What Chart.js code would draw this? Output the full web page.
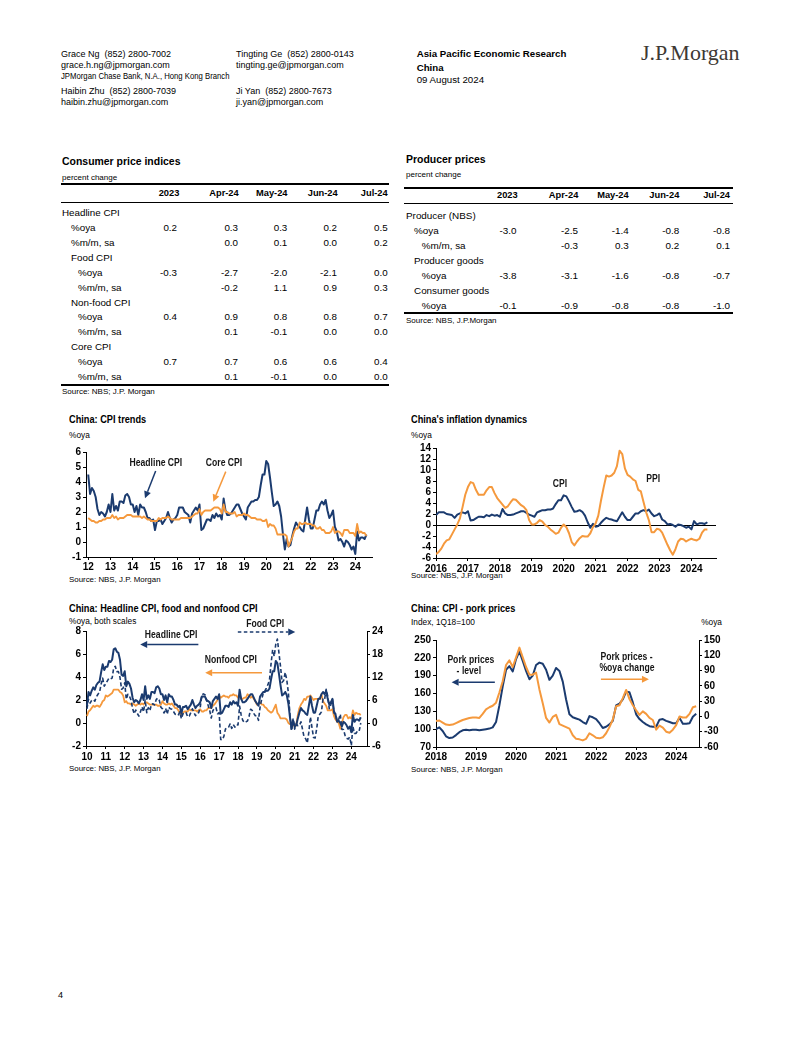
<!DOCTYPE html>
<html><head><meta charset="utf-8">
<script src="https://cdn.jsdelivr.net/npm/chart.js@4.4.1/dist/chart.umd.min.js"></script>
<style>
html,body{margin:0;padding:0;background:#fff}
body{width:802px;height:1037px;position:relative;overflow:hidden;font-family:"Liberation Sans",Arial,sans-serif;color:#000}
.t{position:absolute;white-space:pre;line-height:1}
.r{position:absolute;background:#000}
canvas{position:absolute}
</style></head><body>
<script>
// ---------- DATA ----------
const tableCols = ["2023","Apr-24","May-24","Jun-24","Jul-24"];
const cpiRowLabels = ["Headline CPI","%oya","%m/m, sa","Food CPI","%oya","%m/m, sa","Non-food CPI","%oya","%m/m, sa","Core CPI","%oya","%m/m, sa"];
const cpiRowValues = [[],["0.2","0.3","0.3","0.2","0.5"],["","0.0","0.1","0.0","0.2"],[],["-0.3","-2.7","-2.0","-2.1","0.0"],["","-0.2","1.1","0.9","0.3"],[],["0.4","0.9","0.8","0.8","0.7"],["","0.1","-0.1","0.0","0.0"],[],["0.7","0.7","0.6","0.6","0.4"],["","0.1","-0.1","0.0","0.0"]];
const ppiRowLabels = ["Producer (NBS)","%oya","%m/m, sa","Producer goods","%oya","Consumer goods","%oya"];
const ppiRowValues = [[],["-3.0","-2.5","-1.4","-0.8","-0.8"],["","-0.3","0.3","0.2","0.1"],[],["-3.8","-3.1","-1.6","-0.8","-0.7"],[],["-0.1","-0.9","-0.8","-0.8","-1.0"]];

// Monthly headline CPI %oya, Jan 2010 - Jul 2024
const headlineCPI = [
1.5,2.7,2.4,2.8,3.1,2.9,3.3,3.5,3.6,4.4,5.1,4.6,
4.9,4.9,5.4,5.3,5.5,6.4,6.5,6.2,6.1,5.5,4.2,4.1,
4.5,3.2,3.6,3.4,3.0,2.2,1.8,2.0,1.9,1.7,2.0,2.5,
2.0,3.2,2.1,2.4,2.1,2.7,2.7,2.6,3.1,3.2,3.0,2.5,
2.5,2.0,2.4,1.8,2.5,2.3,2.3,2.0,1.6,1.6,1.4,1.5,
0.8,1.4,1.4,1.5,1.2,1.4,1.6,2.0,1.6,1.3,1.5,1.6,
1.8,2.3,2.3,2.3,2.0,1.9,1.8,1.3,1.9,2.1,2.3,2.1,
2.5,0.8,0.9,1.2,1.5,1.5,1.4,1.8,1.6,1.9,1.7,1.8,
1.5,2.9,2.1,1.8,1.8,1.9,2.1,2.3,2.5,2.5,2.2,1.9,
1.7,1.5,2.3,2.5,2.7,2.7,2.8,2.8,3.0,3.8,4.5,4.5,
5.4,5.2,4.3,3.3,2.4,2.5,2.7,2.4,1.7,0.5,-0.5,0.2,
-0.3,-0.2,0.4,0.9,1.3,1.1,1.0,0.8,0.7,1.5,2.3,1.5,
0.9,0.9,1.5,2.1,2.1,2.5,2.7,2.5,2.8,2.1,1.6,1.8,
2.1,1.0,0.7,0.1,0.2,0.0,-0.3,0.1,0.0,-0.2,-0.5,-0.3,
-0.8,0.7,0.1,0.3,0.3,0.2,0.5];
// Core CPI %oya, Jan 2012 - Jul 2024
const coreCPI = [
1.6,1.5,1.4,1.4,1.3,1.3,1.4,1.4,1.5,1.5,1.6,1.6,
1.6,1.8,1.6,1.7,1.5,1.6,1.6,1.6,1.7,1.8,1.8,1.8,
1.7,1.7,1.7,1.7,1.7,1.6,1.7,1.6,1.5,1.5,1.4,1.4,
1.4,1.4,1.6,1.5,1.6,1.6,1.6,1.7,1.6,1.5,1.5,1.5,
1.5,1.5,1.6,1.6,1.6,1.6,1.6,1.6,1.7,1.8,1.9,1.9,
2.2,1.8,2.0,2.1,2.1,2.1,2.1,2.2,2.3,2.3,2.3,2.2,
1.9,2.5,2.0,2.0,1.9,1.9,1.9,2.0,1.7,1.8,1.8,1.8,
1.9,1.8,1.8,1.7,1.6,1.6,1.6,1.5,1.5,1.5,1.4,1.4,
1.5,1.0,1.2,1.1,1.1,0.9,0.5,0.5,0.5,0.5,0.5,0.4,
-0.3,0.0,0.3,0.7,0.9,0.9,1.3,1.2,1.2,1.3,1.2,1.2,
1.2,1.1,1.1,0.9,0.9,1.0,0.8,0.8,0.6,0.6,0.6,0.7,
1.0,0.6,0.7,0.7,0.6,0.4,0.8,0.8,0.8,0.6,0.6,0.6,
0.4,1.2,0.6,0.7,0.6,0.6,0.4];
// PPI %oya, Jan 2016 - Jul 2024
const ppi = [
-5.3,-4.9,-4.3,-3.4,-2.8,-2.6,-1.7,-0.8,0.1,1.2,3.3,5.5,
6.9,7.8,7.6,6.4,5.5,5.5,5.5,6.3,6.9,6.9,5.8,4.9,
4.3,3.7,3.1,3.4,4.1,4.7,4.6,4.1,3.6,3.3,2.7,0.9,
0.1,0.1,0.4,0.9,0.6,0.0,-0.3,-0.8,-1.2,-1.6,-1.4,-0.5,
0.1,-0.4,-1.5,-3.1,-3.7,-3.0,-2.4,-2.0,-2.1,-2.1,-1.5,-0.4,
0.3,1.7,4.4,6.8,9.0,8.8,9.0,9.5,10.7,13.5,12.9,10.3,
9.1,8.8,8.3,8.0,6.4,6.1,4.2,2.3,0.9,-1.3,-1.3,-0.7,
-0.8,-1.4,-2.5,-3.6,-4.6,-5.4,-4.4,-3.0,-2.5,-2.6,-3.0,-2.7,
-2.5,-2.7,-2.8,-2.5,-1.4,-0.8,-0.8];
// Food CPI %oya, Jan 2010 - Jul 2024 (right scale)
const foodCPI = [
3.7,6.2,5.2,5.9,6.1,5.7,6.8,7.5,8.0,10.1,11.7,9.6,
10.3,11.0,11.7,11.5,11.7,14.4,14.8,13.4,13.4,11.9,8.8,9.1,
10.5,6.2,7.5,7.0,6.0,3.8,2.4,3.4,2.5,1.8,2.9,4.2,
2.9,6.0,2.7,4.0,3.2,4.9,5.0,4.7,6.1,6.5,5.9,4.1,
3.7,2.6,3.8,2.3,4.1,3.7,3.6,3.0,2.3,2.2,2.0,2.9,
1.1,2.4,2.3,2.7,1.6,1.8,2.7,3.7,2.7,1.9,2.6,2.7,
4.1,7.3,7.6,7.4,5.9,4.6,3.3,1.3,3.2,3.8,4.0,2.4,
2.7,-4.3,-4.4,-3.5,-1.6,-1.2,-1.1,-0.2,-1.4,-0.4,-1.1,-0.4,
-0.5,4.4,2.1,0.7,0.1,0.3,0.5,1.7,3.6,3.3,2.5,1.9,
1.9,0.7,4.1,6.1,7.7,8.3,9.1,10.0,11.2,15.5,19.1,17.4,
20.6,21.9,18.3,14.8,10.6,11.1,13.2,11.2,7.9,2.2,-2.0,1.2,
-1.6,-0.2,-0.7,-0.7,0.3,-1.7,-3.7,-4.1,-5.2,-2.4,1.6,-1.2,
-3.8,-3.9,-1.5,1.9,2.3,2.9,6.3,6.1,8.8,7.0,3.7,4.8,
6.2,2.6,2.4,0.4,1.0,2.3,-1.7,-1.7,-3.2,-4.0,-4.2,-3.7,
-5.9,-0.9,-2.7,-2.7,-2.0,-2.1,0.0];
// Nonfood CPI %oya, Jan 2010 - Jul 2024
const nonfoodCPI = [
0.6,1.0,1.1,1.3,1.5,1.4,1.5,1.5,1.4,1.6,1.9,2.0,
2.4,2.3,2.4,2.5,2.6,2.9,2.9,2.9,2.9,2.7,2.6,2.4,
1.8,1.9,1.7,1.7,1.6,1.7,1.6,1.5,1.6,1.7,1.6,1.7,
1.6,1.8,1.8,1.7,1.6,1.6,1.6,1.6,1.6,1.5,1.5,1.6,
1.9,1.7,1.6,1.6,1.7,1.6,1.7,1.5,1.3,1.3,1.1,0.9,
0.7,0.9,1.0,1.0,1.0,1.2,1.1,1.1,1.1,1.1,1.0,1.1,
1.2,1.0,1.0,1.1,1.1,1.3,1.3,1.3,1.5,1.6,1.8,2.0,
2.4,2.2,2.3,2.4,2.3,2.3,2.2,2.4,2.4,2.5,2.4,2.4,
2.2,2.5,2.1,2.1,2.2,2.2,2.5,2.4,2.2,2.3,2.1,1.9,
1.6,1.7,1.8,1.6,1.6,1.4,1.3,1.1,1.0,0.9,1.0,1.3,
1.6,0.9,0.7,0.4,0.4,0.4,0.4,0.3,0.0,-0.1,0.0,-0.1,
-0.3,-0.2,0.7,1.3,1.6,1.8,2.1,2.0,2.3,2.3,2.4,2.2,
2.0,2.1,2.1,2.1,2.1,2.5,1.9,1.7,1.5,1.1,1.1,1.1,
1.2,0.6,0.3,0.1,0.0,-0.5,0.0,0.5,0.7,0.7,0.4,0.5,
0.4,1.1,0.7,0.9,0.8,0.8,0.7];
// Pork price level (index 1Q18=100), Jan 2018 - Jul 2024
const porkLevel = [
100,103,97,88,85,86,90,95,98,99,98,99,
99,98,99,100,101,103,112,140,172,200,206,197,
218,231,215,198,184,190,208,212,210,200,183,190,
203,198,180,150,125,120,118,116,112,109,122,120,
117,110,102,104,108,114,140,143,150,163,162,145,
125,117,112,108,105,104,104,116,117,114,112,110,
110,119,109,109,110,121,126];
// Pork prices %oya, Jan 2018 - Jul 2024
const porkYoY = [
-9,-8,-12,-16,-17,-16,-13,-10,-7,-5,-3,-2,
-2,-3,5,14,18,21,27,47,69,101,110,97,
116,135,116,97,82,82,86,53,26,-3,-12,-1,
3,-15,-18,-21,-24,-37,-44,-45,-47,-44,-33,-37,
-42,-43,-41,-33,-21,-6,20,22,36,52,34,22,
12,3,10,5,-3,-7,-26,-18,-22,-30,-32,-26,
-17,0,-2,-2,5,18,20];

const yearsCPITrend = [2012,2013,2014,2015,2016,2017,2018,2019,2020,2021,2022,2023,2024];
const yearsDynamics = [2016,2017,2018,2019,2020,2021,2022,2023,2024];
const yearsFood = [2010,2011,2012,2013,2014,2015,2016,2017,2018,2019,2020,2021,2022,2023,2024];
const yearsPork = [2018,2019,2020,2021,2022,2023,2024];

// ---------- PAGE TEXT ----------
const FF = "'Liberation Sans', Arial, sans-serif";
function T(x, yc, text, fs, o = {}) {
  const d = document.createElement('div');
  d.className = 't';
  d.textContent = text;
  d.style.fontSize = fs + 'px';
  if (o.bold) d.style.fontWeight = 'bold';
  d.style.top = (yc - 0.49 * fs) + 'px';
  if (o.right) { d.style.right = (802 - x) + 'px'; d.style.transformOrigin = 'right center'; }
  else { d.style.left = x + 'px'; d.style.transformOrigin = 'left center'; }
  if (o.sx) d.style.transform = 'scaleX(' + o.sx + ')';
  if (o.color) d.style.color = o.color;
  if (o.family) d.style.fontFamily = o.family;
  if (o.top !== undefined) d.style.top = o.top + 'px';
  document.body.appendChild(d);
  return d;
}
function R(x1, x2, y, w) {
  const d = document.createElement('div');
  d.className = 'r';
  d.style.left = x1 + 'px'; d.style.width = (x2 - x1) + 'px';
  d.style.top = (y - w / 2) + 'px'; d.style.height = w + 'px';
  document.body.appendChild(d);
}

// header
T(61, 54, "Grace Ng  (852) 2800-7002", 9);
T(61, 65.7, "grace.h.ng@jpmorgan.com", 9);
T(61, 76, "JPMorgan Chase Bank, N.A., Hong Kong Branch", 8.5, {sx: 0.91});
T(61, 91.5, "Haibin Zhu  (852) 2800-7039", 9);
T(61, 102.7, "haibin.zhu@jpmorgan.com", 9);
T(236, 54, "Tingting Ge  (852) 2800-0143", 9);
T(236, 65.7, "tingting.ge@jpmorgan.com", 9);
T(236, 91.5, "Ji Yan  (852) 2800-7673", 9);
T(236, 102.7, "ji.yan@jpmorgan.com", 9);
T(416.7, 54, "Asia Pacific Economic Research", 9.7, {bold: true});
T(416.7, 67.3, "China", 9.7, {bold: true});
T(416.7, 79.3, "09 August 2024", 9.7);
T(641, 0, "J.P.Morgan", 22, {family: "'Liberation Serif','Times New Roman',serif", color: '#3d3934', top: 60.5 - 0.8375 * 22});
T(58, 995, "4", 9);

// CPI table
T(62, 161, "Consumer price indices", 11, {bold: true, sx: 0.95});
T(62, 177.7, "percent change", 8);
R(61, 389, 184, 2);
const cpiHdrRight = [179.3, 238.7, 287.5, 337.7, 387.7];
const cpiValRight = [177, 238, 287.3, 337, 387.7];
tableCols.forEach((c, i) => T(cpiHdrRight[i], 193.5, c, 9.3, {bold: true, right: true}));
R(61, 389, 202.5, 1);
const cpiIndent = [62, 71, 71, 71, 78, 78, 71, 78, 78, 71, 78, 78];
cpiRowLabels.forEach((lab, r) => {
  const y = 213.3 + r * 14.85;
  T(cpiIndent[r], y, lab, 9.8);
  cpiRowValues[r].forEach((v, i) => { if (v) T(cpiValRight[i], y, v, 9.8, {right: true}); });
});
R(61, 389, 384.7, 2);
T(62, 392, "Source: NBS; J.P. Morgan", 8);

// PPI table
T(406, 159.3, "Producer prices", 11, {bold: true, sx: 0.95});
T(406, 175.3, "percent change", 8);
R(404, 733, 187.7, 2);
const ppiHdrRight = [517.7, 578.3, 628.7, 679.3, 730];
const ppiValRight = [516.5, 578, 628.7, 679.3, 730];
tableCols.forEach((c, i) => T(ppiHdrRight[i], 195.5, c, 9.3, {bold: true, right: true}));
R(404, 733, 203, 1);
const ppiIndent = [406, 414, 421.7, 414, 421.7, 414, 421.7];
ppiRowLabels.forEach((lab, r) => {
  const y = 215.7 + r * 14.95;
  T(ppiIndent[r], y, lab, 9.9);
  ppiRowValues[r].forEach((v, i) => { if (v) T(ppiValRight[i], y, v, 9.9, {right: true}); });
});
R(404, 733, 312.7, 2);
T(406, 320.7, "Source: NBS, J.P.Morgan", 8);

// chart titles / notes
T(69, 419.3, "China: CPI trends", 11.5, {bold: true, sx: 0.8});
T(69, 435, "%oya", 8.3);
T(69, 580, "Source: NBS, J.P. Morgan", 7.9);
T(411, 419.3, "China's inflation dynamics", 11.5, {bold: true, sx: 0.8});
T(411, 435, "%oya", 8.3);
T(411, 576, "Source: NBS, J.P. Morgan", 7.9);
T(69, 608.7, "China: Headline CPI, food and nonfood CPI", 11.5, {bold: true, sx: 0.8});
T(69, 620.7, "%oya, both scales", 8.3);
T(69, 769, "Source: NBS, J.P. Morgan", 7.9);
T(411, 608.7, "China: CPI - pork prices", 11.5, {bold: true, sx: 0.8});
T(411, 622.3, "Index, 1Q18=100", 8.3);
T(722, 622.3, "%oya", 8.3, {right: true});
T(411, 770.3, "Source: NBS, J.P. Morgan", 7.9);

// ---------- CHARTS ----------
const NAVY = '#1b3b6f', ORANGE = '#f5993d', INK = '#151515';
Chart.defaults.font.family = FF;
const tickFont = {family: FF, size: 10, weight: 'bold'};

function pts(values, startYear) { return values.map((v, i) => ({x: startYear + i / 12, y: v})); }
function ds(data, color, w, order, yAxisID, dash) {
  return {data, borderColor: color, backgroundColor: color, borderWidth: w, pointRadius: 0, tension: 0,
    fill: false, order, yAxisID: yAxisID || 'y', borderDash: dash || [], borderJoinStyle: 'round', borderCapStyle: 'butt'};
}
function yAxis(pos, min, max, step, width, zeroLine) {
  return {type: 'linear', position: pos, min, max,
    afterBuildTicks: s => { const t = []; for (let v = min; v <= max + 1e-9; v += step) t.push({value: Math.round(v * 1e6) / 1e6}); s.ticks = t; },
    ticks: {font: tickFont, color: '#000', padding: 2, autoSkip: false},
    grid: {drawOnChartArea: !!zeroLine, drawTicks: true, tickLength: 3, tickColor: '#000', lineWidth: 1,
      color: zeroLine ? (c => (c.tick && c.tick.value === 0) ? '#000' : 'rgba(0,0,0,0)') : '#000'},
    border: {display: true, color: '#000', width: 1},
    afterFit: s => { s.width = width; }};
}
function xAxis(min, max, years, short, height, pad) {
  return {type: 'linear', min, max,
    afterBuildTicks: s => { s.ticks = years.map(v => ({value: v})); },
    ticks: {font: tickFont, color: '#000', padding: pad, maxRotation: 0, autoSkip: false,
      callback: v => short ? String(v).slice(2) : String(v)},
    grid: {drawOnChartArea: false, drawTicks: true, tickLength: 3, color: '#000'},
    border: {display: true, color: '#000', width: 1},
    afterFit: s => { s.height = height; }};
}
function annot(items) {
  return {id: 'annot', afterDraw(chart) {
    const ctx = chart.ctx, xs = chart.scales.x, ys = chart.scales.y;
    items.forEach(a => {
      ctx.save();
      if (a.t) {
        ctx.font = 'bold ' + (a.fs || 10.5) + 'px ' + FF;
        ctx.fillStyle = INK; ctx.textAlign = 'center'; ctx.textBaseline = 'middle';
        ctx.translate(xs.getPixelForValue(a.x), ys.getPixelForValue(a.y));
        ctx.scale(a.sx || 0.82, 1);
        ctx.fillText(a.t, 0, 0);
      } else {
        const x1 = xs.getPixelForValue(a.x1), y1 = ys.getPixelForValue(a.y1);
        const x2 = xs.getPixelForValue(a.x2), y2 = ys.getPixelForValue(a.y2);
        const ang = Math.atan2(y2 - y1, x2 - x1), hl = 7, hw = 3.5;
        const bx = x2 - hl * Math.cos(ang), by = y2 - hl * Math.sin(ang);
        ctx.strokeStyle = a.c; ctx.fillStyle = a.c; ctx.lineWidth = 1.5;
        if (a.dash) ctx.setLineDash([3.5, 2.5]);
        ctx.beginPath(); ctx.moveTo(x1, y1); ctx.lineTo(bx, by); ctx.stroke();
        ctx.setLineDash([]);
        ctx.beginPath(); ctx.moveTo(x2, y2);
        ctx.lineTo(bx + hw * Math.sin(ang), by - hw * Math.cos(ang));
        ctx.lineTo(bx - hw * Math.sin(ang), by + hw * Math.cos(ang));
        ctx.closePath(); ctx.fill();
      }
      ctx.restore();
    });
  }};
}
function make(left, top, w, h, cfg) {
  const c = document.createElement('canvas');
  c.width = w; c.height = h;
  c.style.left = left + 'px'; c.style.top = top + 'px'; c.style.width = w + 'px'; c.style.height = h + 'px';
  document.body.appendChild(c);
  cfg.options = Object.assign({responsive: false, animation: false, devicePixelRatio: 1, events: []}, cfg.options);
  cfg.options.plugins = Object.assign({legend: {display: false}, tooltip: {enabled: false}}, cfg.options.plugins || {});
  return new Chart(c, cfg);
}

// Chart 1: CPI trends
make(58, 440, 320, 135, {
  type: 'line',
  data: {datasets: [
    ds(pts(coreCPI, 2012), ORANGE, 1.8, 0),
    ds(pts(headlineCPI.slice(24), 2012), NAVY, 2, 1)
  ]},
  options: {
    layout: {padding: {top: 12, right: 6, left: 0, bottom: 0}},
    scales: {x: xAxis(2011.9, 2024.75, yearsCPITrend, true, 18, 1), y: yAxis('left', -1, 6, 1, 28)}
  },
  plugins: [annot([
    {t: 'Headline CPI', x: 2015.04, y: 5.25},
    {x1: 2015.03, y1: 4.73, x2: 2014.55, y2: 2.91, c: NAVY},
    {t: 'Core CPI', x: 2018.1, y: 5.25},
    {x1: 2018.18, y1: 4.69, x2: 2017.62, y2: 2.69, c: ORANGE}
  ])]
});

// Chart 2: inflation dynamics
make(405, 440, 320, 140, {
  type: 'line',
  data: {datasets: [
    ds(pts(ppi, 2016), ORANGE, 2, 0),
    ds(pts(headlineCPI.slice(72), 2016), NAVY, 2, 1)
  ]},
  options: {
    layout: {padding: {top: 7, right: 9, left: 0, bottom: 0}},
    scales: {x: xAxis(2016, 2024.77, yearsDynamics, false, 22, 2), y: yAxis('left', -6, 14, 2, 31, true)}
  },
  plugins: [annot([
    {t: 'CPI', x: 2019.88, y: 7.51},
    {t: 'PPI', x: 2022.8, y: 8.36}
  ])]
});

// Chart 3: headline, food, nonfood
make(58, 615, 330, 150, {
  type: 'line',
  data: {datasets: [
    ds(pts(headlineCPI, 2010), NAVY, 2, 0, 'y'),
    ds(pts(foodCPI, 2010), NAVY, 1.6, 1, 'y2', [4, 2.5]),
    ds(pts(nonfoodCPI, 2010), ORANGE, 1.8, 2, 'y')
  ]},
  options: {
    layout: {padding: {top: 16, right: 0, left: 0, bottom: 0}},
    scales: {
      x: xAxis(2009.95, 2024.83, yearsFood, true, 19, 2),
      y: yAxis('left', -2, 8, 2, 28),
      y2: yAxis('right', -6, 24, 6, 21)
    }
  },
  plugins: [annot([
    {t: 'Headline CPI', x: 2014.46, y: 7.62},
    {x1: 2015.9, y1: 6.83, x2: 2012.82, y2: 6.83, c: NAVY},
    {t: 'Food CPI', x: 2019.44, y: 8.57},
    {x1: 2017.99, y1: 7.91, x2: 2021.03, y2: 7.91, c: NAVY, dash: true},
    {t: 'Nonfood CPI', x: 2017.62, y: 5.44},
    {x1: 2019.27, y1: 4.37, x2: 2016.26, y2: 4.37, c: ORANGE}
  ])]
});

// Chart 4: pork prices
make(405, 632, 325, 132, {
  type: 'line',
  data: {datasets: [
    ds(pts(porkYoY, 2018), ORANGE, 2, 0, 'y2'),
    ds(pts(porkLevel, 2018), NAVY, 2, 1, 'y')
  ]},
  options: {
    layout: {padding: {top: 8, right: 0, left: 0, bottom: 0}},
    scales: {
      x: xAxis(2018, 2024.57, yearsPork, false, 17, 1),
      y: yAxis('left', 70, 250, 30, 31),
      y2: yAxis('right', -60, 150, 30, 31)
    }
  },
  plugins: [annot([
    {t: 'Pork prices', x: 2018.87, y: 216.4},
    {t: '- level', x: 2018.82, y: 198},
    {x1: 2019.47, y1: 179, x2: 2018.39, y2: 179, c: NAVY},
    {t: 'Pork prices -', x: 2022.76, y: 220.5},
    {t: '%oya change', x: 2022.77, y: 202.5},
    {x1: 2022.12, y1: 183.9, x2: 2023.32, y2: 183.9, c: ORANGE}
  ])]
});
</script>
</body></html>
